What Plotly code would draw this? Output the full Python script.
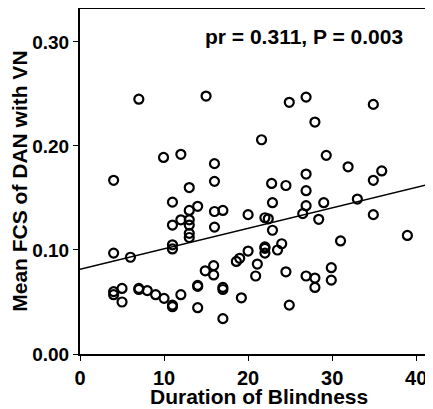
import plotly.graph_objects as go

duration = [7, 15, 24.9, 26.9, 34.9, 27.95, 21.6, 9.94, 12, 16, 29.3, 31.9, 35.9, 4, 16, 34.9,
            26.9, 13, 22.8, 24.5, 26.9, 33, 11, 29, 22.9, 13, 14, 16, 17, 26.9, 20, 26.5,
            34.9, 22, 22.4, 28.4, 12, 13, 11, 13, 16, 22.9, 13, 13, 38.95, 31, 24, 11, 11,
            22, 22, 22, 23.5, 20, 4, 6, 19, 18.6, 21.1, 15.9, 14.9, 15.9, 24.5, 29.9, 20.9,
            26.9, 27.95, 29.9, 27.95, 24.9, 19.2, 4, 4, 5, 5, 7, 7, 8, 9, 10, 11, 11, 12,
            14, 14, 14, 17, 17, 17]
fcs = [0.245, 0.248, 0.242, 0.247, 0.240, 0.223, 0.206, 0.189, 0.192, 0.183, 0.191, 0.180, 0.176,
       0.167, 0.166, 0.167, 0.173, 0.160, 0.164, 0.162, 0.157, 0.149, 0.146, 0.1455, 0.1455,
       0.138, 0.142, 0.137, 0.138, 0.1426, 0.134, 0.135, 0.134, 0.131, 0.130, 0.1295, 0.129,
       0.129, 0.124, 0.124, 0.122, 0.119, 0.116, 0.112, 0.114, 0.1087, 0.106, 0.105, 0.101,
       0.103, 0.1016, 0.097, 0.100, 0.099, 0.097, 0.093, 0.092, 0.089, 0.0865, 0.085, 0.080,
       0.076, 0.079, 0.083, 0.075, 0.075, 0.073, 0.071, 0.064, 0.047, 0.054, 0.060, 0.057,
       0.063, 0.050, 0.063, 0.062, 0.061, 0.057, 0.0535, 0.047, 0.0455, 0.057, 0.066, 0.065,
       0.0445, 0.064, 0.062, 0.034]

fit_intercept = 0.0814
fit_slope = 0.00197
fit_x = [0, 42]
fit_y = [fit_intercept + fit_slope * v for v in fit_x]

x_ticks = [0, 10, 20, 30, 40]
y_ticks = [0.0, 0.1, 0.2, 0.3]
stat_text = "pr = 0.311, P = 0.003"
x_title = "Duration of Blindness"
y_title = "Mean FCS of DAN with VN"

FONT = "Liberation Sans, Arial, sans-serif"

# page has an 8px body margin; figure is sized to fill the 433x409 window from (8,8)
fig = go.Figure()
fig.add_trace(go.Scatter(x=fit_x, y=fit_y, mode="lines",
                         line=dict(color="black", width=1.5), hoverinfo="skip",
                         showlegend=False))
fig.add_trace(go.Scatter(x=duration, y=fcs, mode="markers",
                         marker=dict(symbol="circle-open", size=9, color="black",
                                     line=dict(color="black", width=2.2)),
                         showlegend=False))

fig.add_annotation(x=26.7, y=0.3055, xref="x", yref="y", text=stat_text,
                   showarrow=False, xanchor="center", yanchor="middle",
                   font=dict(family=FONT, size=21, color="black", weight="bold"))
fig.add_annotation(x=0.5057, y=-0.122, xref="paper", yref="paper", text=x_title,
                   showarrow=False, xanchor="center", yanchor="middle",
                   font=dict(family=FONT, size=21, color="black", weight="bold"))
fig.add_annotation(x=-0.172, y=0.5, xref="paper", yref="paper", text=y_title,
                   showarrow=False, xanchor="center", yanchor="middle", textangle=-90,
                   font=dict(family=FONT, size=21, color="black", weight="bold"))

fig.update_layout(
    width=425, height=401,
    margin=dict(l=72, r=0, t=1, b=55, autoexpand=False),
    plot_bgcolor="white", paper_bgcolor="white",
    font=dict(family=FONT, color="black"),
)
fig.update_xaxes(range=[0, 42.0], tickvals=x_ticks, ticks="outside", ticklen=5,
                 tickwidth=1, tickcolor="black", showline=True, linewidth=2,
                 linecolor="black", mirror=True, showgrid=False, zeroline=False,
                 automargin=False,
                 tickfont=dict(family=FONT, size=20, color="black", weight="bold"))
fig.update_yaxes(range=[0, 0.3317], tickvals=y_ticks, tickformat=".2f", ticks="outside",
                 ticklen=5, tickwidth=1, tickcolor="black", showline=True, linewidth=2,
                 linecolor="black", showgrid=False, zeroline=False, automargin=False,
                 tickfont=dict(family=FONT, size=19, color="black", weight="bold"))

fig.write_html("out.html")
